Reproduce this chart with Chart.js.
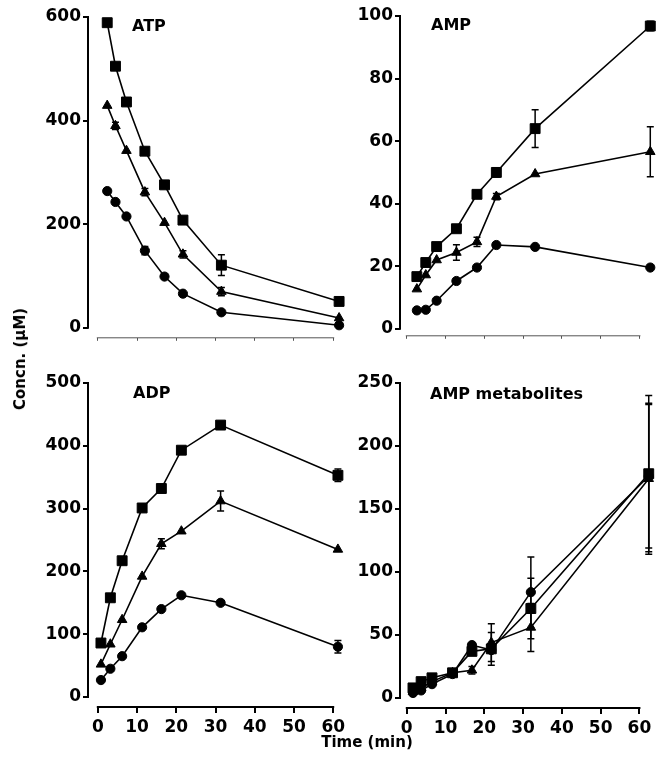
<!DOCTYPE html>
<html>
<head>
<meta charset="utf-8">
<script src="https://cdn.jsdelivr.net/npm/chart.js@4.4.1/dist/chart.umd.min.js"></script>
<style>
body { margin: 0; background: #fff; width: 661px; height: 763px; position: relative; overflow: hidden; }
canvas { position: absolute; }
.axis_title { position: absolute; font: bold 15px "DejaVu Sans"; color: #000; white-space: nowrap; }
</style>
</head>
<body>

<canvas id="atp_chart" width="352" height="350" style="left:0;top:0"></canvas>
<canvas id="amp_chart" width="331" height="348" style="left:330px;top:0"></canvas>
<canvas id="adp_chart" width="352" height="403" style="left:0;top:360px"></canvas>
<canvas id="met_chart" width="331" height="403" style="left:330px;top:360px"></canvas>

<div class="axis_title" id="y_title">Concn. (μM)</div>
<div class="axis_title" id="x_title">Time (min)</div>

<script>

// ATP
const atp_times = [2.4, 4.5, 7.3, 12.0, 17.0, 21.7, 31.5, 61.5];
const atp_square = [589, 505, 436, 341, 276, 208, 121, 51];
const atp_square_err = [0, 0, 0, 0, 0, 0, 20, 0];
const atp_triangle = [429, 390, 342, 262, 203, 142, 70, 19];
const atp_triangle_err = [0, 7, 0, 7, 0, 7, 8, 0];
const atp_circle = [264, 243, 215, 149, 99, 66, 30, 5];
const atp_circle_err = [0, 0, 0, 8, 0, 0, 0, 0];
const atp_y_ticks = [0, 200, 400, 600];

// AMP
const amp_times = [2.6, 4.9, 7.7, 12.8, 18.1, 23.1, 33.1, 62.8];
const amp_square = [16.7, 21.2, 26.3, 32, 43, 50, 64, 96.8];
const amp_square_err = [0, 0, 0, 0, 0, 1.5, 6, 1.5];
const amp_triangle = [12.7, 17.2, 22, 24.4, 27.8, 42.3, 49.5, 56.6];
const amp_triangle_err = [0, 0, 0, 2.5, 1.5, 1, 0, 8];
const amp_circle = [5.9, 6.1, 9, 15.3, 19.6, 26.8, 26.2, 19.6];
const amp_circle_err = [0, 0, 0, 0, 0, 0, 0, 0];
const amp_y_ticks = [0, 20, 40, 60, 80, 100];

// ADP
const adp_times = [0.8, 3.2, 6.2, 11.3, 16.2, 21.3, 31.3, 61.2];
const adp_square = [86, 158, 217, 301, 332, 393, 433, 353];
const adp_square_err = [0, 0, 0, 0, 0, 0, 4, 10];
const adp_triangle = [52, 84, 123, 192, 244, 264, 312, 235];
const adp_triangle_err = [0, 0, 0, 0, 8, 0, 16, 0];
const adp_circle = [27, 45, 65, 111, 140, 162, 150, 80];
const adp_circle_err = [0, 0, 0, 0, 0, 0, 0, 10];
const adp_y_ticks = [0, 100, 200, 300, 400, 500];

// AMP metabolites
const met_times = [1.6, 3.7, 6.5, 11.8, 16.8, 21.8, 32, 62.4];
const met_square = [8, 13, 16, 20, 37, 39, 71, 178];
const met_square_err = [0, 0, 0, 0, 3, 13, 24, 62];
const met_triangle = [5, 8, 13, 20, 22, 44, 56, 174];
const met_triangle_err = [0, 0, 0, 0, 3, 15, 19, 60];
const met_circle = [4, 6, 11, 19, 42, 38, 84, 176];
const met_circle_err = [0, 0, 0, 0, 0, 0, 28, 57];
const met_y_ticks = [0, 50, 100, 150, 200, 250];

const x_ticks = [0, 10, 20, 30, 40, 50, 60];

const tick_font = { family: "DejaVu Sans", weight: "bold", size: 17 };



function toPoints(times, values){
    return times.map((t, i) => ({ x: t, y: values[i] }));
}



function makeDataset(times, values, errors, style, radius){
    return {
        data: toPoints(times, values),
        errors: errors,
        borderColor: "#000",
        backgroundColor: "#000",
        borderWidth: 1.6,
        pointStyle: style,
        pointRadius: radius,
        pointBorderWidth: 1,
        pointBackgroundColor: "#000",
        pointBorderColor: "#000",
        tension: 0,
        clip: false
    };
}



// error bars, detached axis lines and the panel name
const panelPlugin = {

    id: "panelPlugin",

    afterDatasetsDraw(chart){

        const ctx = chart.ctx;
        const y = chart.scales.y;

        ctx.save();
        ctx.strokeStyle = "#000";
        ctx.lineWidth = 1.5;

        chart.data.datasets.forEach((ds, d) => {
            const meta = chart.getDatasetMeta(d);
            ds.data.forEach((p, i) => {
                const err = ds.errors[i];
                if(!err) return;
                const px = meta.data[i].x;
                const top = y.getPixelForValue(p.y + err);
                const bottom = y.getPixelForValue(p.y - err);
                ctx.beginPath();
                ctx.moveTo(px, top);
                ctx.lineTo(px, bottom);
                ctx.moveTo(px - 3.5, top);
                ctx.lineTo(px + 3.5, top);
                ctx.moveTo(px - 3.5, bottom);
                ctx.lineTo(px + 3.5, bottom);
                ctx.stroke();
            });
        });

        ctx.restore();

    },

    afterDraw(chart, args, opts){

        const ctx = chart.ctx;
        const x = chart.scales.x;
        const y = chart.scales.y;
        const area = chart.chartArea;
        const y_top = opts.yTicks[opts.yTicks.length - 1];

        ctx.save();
        ctx.strokeStyle = "#000";
        ctx.lineWidth = 2;

        ctx.beginPath();
        ctx.moveTo(area.left, y.getPixelForValue(0) + 1);
        ctx.lineTo(area.left, y.getPixelForValue(y_top) - 1);
        ctx.stroke();

        // the top panels only have a faint time axis
        ctx.lineWidth = opts.xLine;
        ctx.strokeStyle = opts.xLine < 2 ? "#555" : "#000";
        ctx.beginPath();
        ctx.moveTo(x.getPixelForValue(x_ticks[0]) - 1, area.bottom);
        ctx.lineTo(x.getPixelForValue(x_ticks[x_ticks.length - 1]) + 1, area.bottom);
        ctx.stroke();

        ctx.fillStyle = "#000";
        ctx.font = "bold 16px 'DejaVu Sans'";
        ctx.textBaseline = "alphabetic";
        ctx.fillText(opts.text, opts.left, opts.baseline);

        ctx.restore();

    }

};



function makePanel(canvas, cfg){

    return new Chart(canvas, {

        type: "line",
        data: {
            datasets: [
                makeDataset(cfg.times, cfg.square, cfg.square_err, "rect", 7),
                makeDataset(cfg.times, cfg.triangle, cfg.triangle_err, "triangle", 5.5),
                makeDataset(cfg.times, cfg.circle, cfg.circle_err, "circle", 4.6)
            ]
        },
        options: {

            responsive: false,
            animation: false,
            layout: { padding: { top: cfg.padTop, right: cfg.padRight, left: 0, bottom: 0 } },

            plugins: {
                legend: { display: false },
                tooltip: { enabled: false },
                panelPlugin: {
                    text: cfg.text, left: cfg.textLeft, baseline: cfg.textBaseline,
                    yTicks: cfg.yTicks, xLine: cfg.xLabels ? 2 : 1
                }
            },

            scales: {
                x: {
                    type: "linear",
                    min: cfg.xMin,
                    max: cfg.xMax,
                    border: { display: false },
                    grid: {
                        drawOnChartArea: false,
                        drawTicks: true,
                        tickLength: cfg.xLabels ? 6 : 3,
                        color: cfg.xLabels ? "#000" : "#555",
                        lineWidth: cfg.xLabels ? 2 : 1
                    },
                    ticks: {
                        maxRotation: 0,
                        autoSkip: false,
                        padding: 4,
                        color: "#000",
                        font: tick_font,
                        callback: v => cfg.xLabels ? v : ""
                    },
                    afterBuildTicks: s => { s.ticks = x_ticks.map(v => ({ value: v })); },
                    afterFit: s => { s.height = cfg.xHeight; }
                },
                y: {
                    type: "linear",
                    min: cfg.yMin,
                    max: cfg.yMax,
                    border: { display: false },
                    grid: { drawOnChartArea: false, drawTicks: true, tickLength: 5, color: "#000", lineWidth: 2 },
                    ticks: {
                        padding: 2,
                        color: "#000",
                        font: tick_font
                    },
                    afterBuildTicks: s => { s.ticks = cfg.yTicks.map(v => ({ value: v })); },
                    afterFit: s => { s.width = cfg.yWidth; }
                }
            }

        },

        plugins: [panelPlugin]

    });

}



document.addEventListener("DOMContentLoaded", () => {

    const y_title = document.getElementById("y_title");
    y_title.style.left = "20px";
    y_title.style.top = "359px";
    y_title.style.transform = "translate(-50%, -50%) rotate(-90deg)";

    const x_title = document.getElementById("x_title");
    x_title.style.left = "367px";
    x_title.style.top = "742px";
    x_title.style.transform = "translate(-50%, -50%)";

    makePanel(atp_chart, {
        times: atp_times,
        square: atp_square, square_err: atp_square_err,
        triangle: atp_triangle, triangle_err: atp_triangle_err,
        circle: atp_circle, circle_err: atp_circle_err,
        xMin: -2.5, xMax: 62.75, xLabels: false, xHeight: 10,
        yMin: -19.2, yMax: 600, yTicks: atp_y_ticks, yWidth: 88,
        padTop: 17, padRight: 3,
        text: "ATP", textLeft: 132, textBaseline: 31
    });

    makePanel(amp_chart, {
        times: amp_times,
        square: amp_square, square_err: amp_square_err,
        triangle: amp_triangle, triangle_err: amp_triangle_err,
        circle: amp_circle, circle_err: amp_circle_err,
        xMin: -1.75, xMax: 63.5, xLabels: false, xHeight: 10,
        yMin: -2.22, yMax: 100, yTicks: amp_y_ticks, yWidth: 70,
        padTop: 16, padRight: 0,
        text: "AMP", textLeft: 101, textBaseline: 30
    });

    makePanel(adp_chart, {
        times: adp_times,
        square: adp_square, square_err: adp_square_err,
        triangle: adp_triangle, triangle_err: adp_triangle_err,
        circle: adp_circle, circle_err: adp_circle_err,
        xMin: -2.5, xMax: 62.75, xLabels: true, xHeight: 56,
        yMin: -15.9, yMax: 500, yTicks: adp_y_ticks, yWidth: 88,
        padTop: 23, padRight: 3,
        text: "ADP", textLeft: 133, textBaseline: 38
    });

    makePanel(met_chart, {
        times: met_times,
        square: met_square, square_err: met_square_err,
        triangle: met_triangle, triangle_err: met_triangle_err,
        circle: met_circle, circle_err: met_circle_err,
        xMin: -1.75, xMax: 63.5, xLabels: true, xHeight: 55,
        yMin: -7.94, yMax: 250, yTicks: met_y_ticks, yWidth: 70,
        padTop: 23, padRight: 0,
        text: "AMP metabolites", textLeft: 100, textBaseline: 39
    });

});

</script>
</body>
</html>
